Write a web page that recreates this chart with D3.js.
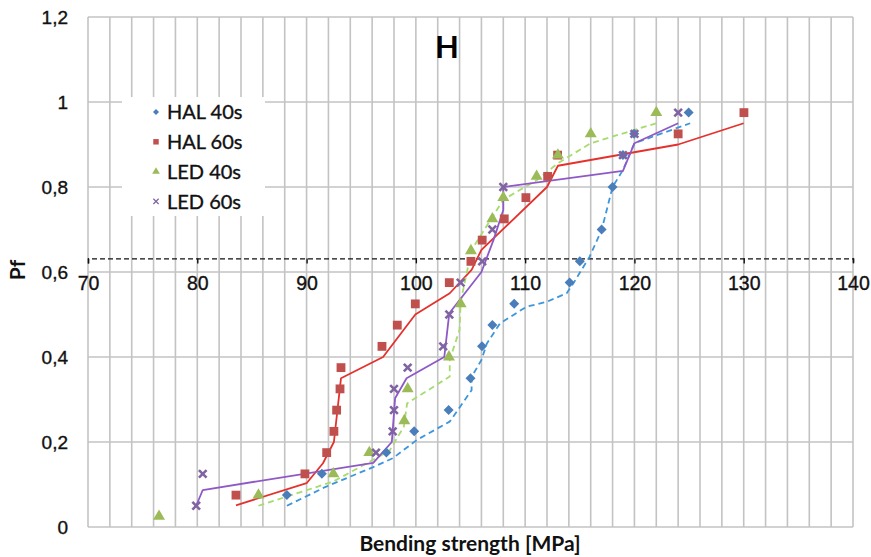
<!DOCTYPE html>
<html>
<head>
<meta charset="utf-8">
<script src="https://cdn.jsdelivr.net/npm/d3@7"></script>
<style>
  body { margin: 0; background: #fff; }
  svg { display: block; font-family: Lato, 'Open Sans', sans-serif; }
</style>
</head>
<body>
<div id="chart"></div>
<script>
const xTicks      = [70, 80, 90, 100, 110, 120, 130, 140]
const yTicks      = [0, 0.2, 0.4, 0.6, 0.8, 1, 1.2]
const seriesNames = ['HAL 40s', 'HAL 60s', 'LED 40s', 'LED 60s']
const crossPf     = 0.632

// measured points (bending strength, Pf)
const hal40sX  = [88.2, 91.4, 97.3, 99.85, 103.0, 105.0, 106.05, 107.0, 109.0, 114.07, 115.0, 117.0, 118.0, 118.95, 119.98, 124.96]
const hal40sPf = [0.075, 0.125, 0.175, 0.225, 0.275, 0.35, 0.425, 0.475, 0.525, 0.575, 0.625, 0.7, 0.8, 0.875, 0.925, 0.975]
const hal60sX  = [83.54, 89.85, 91.84, 92.5, 92.75, 93.06, 93.15, 96.9, 98.3, 99.95, 103.06, 105.04, 106.07, 108.09, 110.07, 112.06, 112.97, 124.0, 130.02]
const hal60sPf = [0.075, 0.125, 0.175, 0.225, 0.275, 0.325, 0.375, 0.425, 0.475, 0.525, 0.575, 0.625, 0.675, 0.725, 0.775, 0.825, 0.875, 0.925, 0.975]
const led40sX  = [76.5, 85.6, 92.45, 95.74, 98.94, 99.25, 103.03, 104.1, 105.04, 107.0, 108.0, 111.05, 113.0, 116.0, 122.0]
const led40sPf = [0.025, 0.075, 0.125, 0.175, 0.25, 0.325, 0.4, 0.525, 0.65, 0.725, 0.775, 0.825, 0.875, 0.925, 0.975]
const led60sX  = [79.9, 80.5, 96.35, 97.88, 98.0, 98.0, 99.25, 102.5, 103.06, 104.1, 106.07, 107.0, 108.0, 118.95, 120.0, 124.0]
const led60sPf = [0.05, 0.125, 0.175, 0.225, 0.275, 0.325, 0.375, 0.425, 0.5, 0.575, 0.625, 0.7, 0.8, 0.875, 0.925, 0.975]

// estimated distribution lines
const hal40sLineX  = [88.2, 91.7, 96.1, 97.9, 100.1, 103.1, 103.7, 105.1, 105.1, 106.0, 106.5, 107.7, 110.1, 112.0, 113.8, 114.4, 115.9, 117.0, 118.0, 118.95, 120.0, 125.1]
const hal40sLinePf = [0.05, 0.094, 0.141, 0.162, 0.205, 0.248, 0.27, 0.322, 0.353, 0.393, 0.432, 0.479, 0.518, 0.53, 0.55, 0.573, 0.636, 0.699, 0.8, 0.84, 0.903, 0.95]
const hal60sLineX  = [83.54, 90.0, 91.5, 92.5, 93.15, 97.0, 99.95, 103.1, 105.1, 106.0, 112.0, 113.0, 124.0, 130.0]
const hal60sLinePf = [0.051, 0.103, 0.15, 0.2, 0.35, 0.4, 0.5, 0.55, 0.605, 0.652, 0.8, 0.85, 0.9, 0.95]
const led40sLineX  = [85.6, 92.45, 95.8, 97.6, 98.9, 99.2, 103.1, 103.1, 104.0, 104.1, 105.1, 108.0, 111.05, 113.0, 116.0, 122.0]
const led40sLinePf = [0.05, 0.107, 0.154, 0.18, 0.236, 0.291, 0.354, 0.393, 0.464, 0.53, 0.652, 0.77, 0.816, 0.856, 0.903, 0.95]
const led60sLineX  = [79.9, 80.5, 96.1, 97.8, 98.1, 99.15, 102.6, 103.06, 106.0, 107.1, 108.0, 108.0, 118.95, 120.0, 124.0]
const led60sLinePf = [0.05, 0.087, 0.151, 0.2, 0.303, 0.35, 0.4, 0.503, 0.6, 0.675, 0.746, 0.8, 0.838, 0.903, 0.95]

const markerColors = ['#4a7ebb', '#c0504d', '#9bbb59', '#8064a2']
const lineColors   = ['#3d96dc', '#e5312c', '#a6dc6e', '#8e58c6']
const lineDashes   = ['6,4', null, '6,4', null]

var points = [[hal40sX, hal40sPf], [hal60sX, hal60sPf], [led40sX, led40sPf], [led60sX, led60sPf]]
  .map(s => s[0].map((v, i) => ({x: v, pf: s[1][i]})))
var lines = [[hal40sLineX, hal40sLinePf], [hal60sLineX, hal60sLinePf], [led40sLineX, led40sLinePf], [led60sLineX, led60sLinePf]]
  .map(s => s[0].map((v, i) => ({x: v, pf: s[1][i]})))

const width = 871, height = 557
const plot = {left: 88, right: 853, top: 17, bottom: 527}

var svg = d3.select('#chart').append('svg').attr('width', width).attr('height', height)

var x = d3.scaleLinear().domain([70, 140]).range([plot.left, plot.right])
var y = d3.scaleLinear().domain([0, 1.2]).range([plot.bottom, plot.top])
var commaFormat = d => String(+d.toFixed(1)).replace('.', ',')

// grid: every 2 MPa vertically, every 0.2 horizontally
var grid = svg.append('g').attr('stroke', '#c3c3c3').attr('stroke-width', 1.6)
grid.selectAll('.vgrid').data(d3.range(70, 141, 2)).enter().append('line')
  .attr('x1', d => x(d)).attr('x2', d => x(d)).attr('y1', plot.top).attr('y2', plot.bottom)
grid.selectAll('.hgrid').data(yTicks).enter().append('line')
  .attr('x1', plot.left).attr('x2', plot.right).attr('y1', d => y(d)).attr('y2', d => y(d))

// legend box sits on top of the grid
var legend = svg.append('g')
legend.append('rect').attr('x', 122).attr('y', 97).attr('width', 143).attr('height', 119).attr('fill', '#fff')

// y axis labels
svg.append('g').attr('transform', 'translate(' + plot.left + ',0)')
  .call(d3.axisLeft(y).tickValues(yTicks).tickSize(0).tickPadding(20).tickFormat(commaFormat))
  .call(g => g.select('.domain').remove())
  .selectAll('text').style('font-size', '19px').attr('fill', '#111').attr('stroke', '#111').attr('stroke-width', 0.35)

// x axis crosses at Pf = 0.632
var xAxis = svg.append('g').attr('transform', 'translate(0,' + y(crossPf) + ')')
  .call(d3.axisBottom(x).tickValues(xTicks).tickSize(5).tickPadding(13).tickFormat(d3.format('d')))
xAxis.select('.domain').attr('stroke', '#111').attr('stroke-width', 1.4).attr('stroke-dasharray', '5,3')
xAxis.selectAll('.tick line').attr('stroke', '#111').attr('stroke-width', 1.4)
xAxis.selectAll('text').style('font-size', '19.5px').attr('fill', '#111').attr('stroke', '#111').attr('stroke-width', 0.35)

// distribution lines
var lineGen = d3.line().x(d => x(d.x)).y(d => y(d.pf))
lines.forEach((data, i) => {
  svg.append('path').datum(data)
    .attr('fill', 'none')
    .attr('stroke', lineColors[i])
    .attr('stroke-width', 1.8)
    .attr('stroke-dasharray', lineDashes[i])
    .attr('stroke-linejoin', 'round')
    .attr('d', lineGen)
})

// markers: diamond is a square turned 45 degrees
var symbols = [d3.symbolSquare, d3.symbolSquare, d3.symbolTriangle, d3.symbolX]
var sizes = [50, 78, 62, 40]
function drawMarker(g, i, size) {
  var path = g.append('path').attr('d', d3.symbol(symbols[i], size)())
  if (i == 0) path.attr('transform', 'rotate(45)')
  if (i == 3) path.attr('stroke', markerColors[i]).attr('stroke-width', 2.6).attr('fill', 'none')
  else path.attr('fill', markerColors[i])
  return path
}
points.forEach((data, i) => {
  data.forEach(d => {
    var g = svg.append('g').attr('transform', 'translate(' + x(d.x) + ',' + y(d.pf) + ')')
    drawMarker(g, i, sizes[i])
  })
})

// legend entries
seriesNames.forEach((name, i) => {
  var row = legend.append('g').attr('transform', 'translate(0,' + (112 + i * 29.8) + ')')
  drawMarker(row.append('g').attr('transform', 'translate(156,0)'), i, [18, 30, 26, 20][i])
    .attr('stroke-width', i == 3 ? 1.2 : null)
  row.append('text').attr('x', 167).attr('dy', '0.36em').style('font-size', '20px')
    .attr('fill', '#111').attr('stroke', '#111').attr('stroke-width', 0.35).text(name)
})

// titles
svg.append('text').attr('x', 447).attr('y', 58).attr('text-anchor', 'middle')
  .style('font-size', '31px').style('font-weight', 'bold').text('H')
svg.append('text').attr('x', 470).attr('y', 551).attr('text-anchor', 'middle')
  .style('font-size', '21px').style('font-weight', 'bold').attr('fill', '#111').text('Bending strength [MPa]')
svg.append('text').attr('transform', 'translate(25,270) rotate(-90)').attr('text-anchor', 'middle')
  .style('font-size', '21px').style('font-weight', 'bold').attr('fill', '#111').text('Pf')
</script>
</body>
</html>
